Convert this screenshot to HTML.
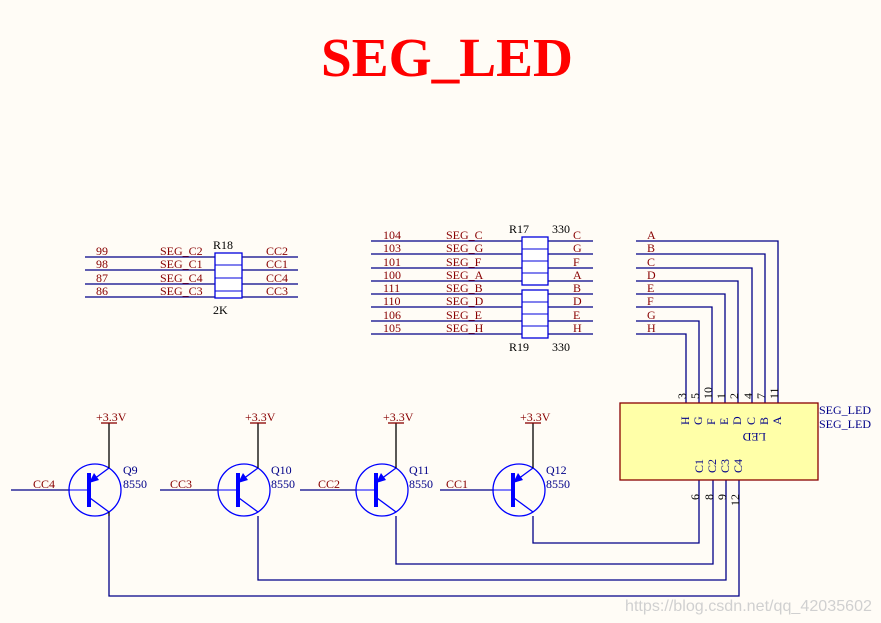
<!DOCTYPE html>
<html><head><meta charset="utf-8"><style>
html,body{margin:0;padding:0;background:#fffcf6;}
svg{display:block;font-family:"Liberation Serif",serif;}
</style></head><body>
<svg width="881" height="623" viewBox="0 0 881 623" xmlns="http://www.w3.org/2000/svg">
<rect width="881" height="623" fill="#fffcf6"/>
<text x="447" y="76" text-anchor="middle" font-size="55" font-weight="bold" fill="#f00" textLength="252" lengthAdjust="spacingAndGlyphs">SEG_LED</text>

<g stroke="#000088" stroke-width="1.3" fill="none">
<line x1="85" y1="257" x2="298" y2="257"/><line x1="85" y1="270" x2="298" y2="270"/>
<line x1="85" y1="284" x2="298" y2="284"/><line x1="85" y1="297" x2="298" y2="297"/>
<line x1="371" y1="241" x2="593" y2="241"/><line x1="371" y1="254" x2="593" y2="254"/>
<line x1="371" y1="268" x2="593" y2="268"/><line x1="371" y1="281" x2="593" y2="281"/>
<line x1="371" y1="294" x2="593" y2="294"/><line x1="371" y1="307" x2="593" y2="307"/>
<line x1="371" y1="321" x2="593" y2="321"/><line x1="371" y1="334" x2="593" y2="334"/>
<path d="M636 241H778V403M636 254H765V403M636 268H752V403M636 281H738V403M636 294H725V403M636 307H712V403M636 321H699V403M636 334H686V403"/>
<path d="M699 480V543H533V516M713 480V564H396V516M726 480V580H258V516M739 480V596H109V516"/>
</g>
<g fill="#fff" stroke="#0000dd" stroke-width="1.3">
<rect x="215" y="253" width="27" height="45"/>
<rect x="522" y="237" width="26" height="48"/>
<rect x="522" y="290" width="26" height="48"/>
</g>
<g stroke="#0000dd" stroke-width="1"><line x1="215" y1="265" x2="242" y2="265"/><line x1="215" y1="278" x2="242" y2="278"/><line x1="215" y1="291" x2="242" y2="291"/>
<line x1="522" y1="249" x2="548" y2="249"/><line x1="522" y1="261" x2="548" y2="261"/><line x1="522" y1="273" x2="548" y2="273"/>
<line x1="522" y1="302" x2="548" y2="302"/><line x1="522" y1="314" x2="548" y2="314"/><line x1="522" y1="326" x2="548" y2="326"/></g>

<g font-size="12" fill="#880000">
<text x="96" y="255">99</text><text x="96" y="268">98</text><text x="96" y="282">87</text><text x="96" y="295">86</text>
<text x="160" y="255">SEG_C2</text><text x="160" y="268">SEG_C1</text><text x="160" y="282">SEG_C4</text><text x="160" y="295">SEG_C3</text>
<text x="266" y="255">CC2</text><text x="266" y="268">CC1</text><text x="266" y="282">CC4</text><text x="266" y="295">CC3</text>
<text x="383" y="239">104</text><text x="383" y="252">103</text><text x="383" y="266">101</text><text x="383" y="279">100</text>
<text x="383" y="292">111</text><text x="383" y="305">110</text><text x="383" y="319">106</text><text x="383" y="332">105</text>
<text x="446" y="239">SEG_C</text><text x="446" y="252">SEG_G</text><text x="446" y="266">SEG_F</text><text x="446" y="279">SEG_A</text>
<text x="446" y="292">SEG_B</text><text x="446" y="305">SEG_D</text><text x="446" y="319">SEG_E</text><text x="446" y="332">SEG_H</text>
<text x="573" y="239">C</text><text x="573" y="252">G</text><text x="573" y="266">F</text><text x="573" y="279">A</text>
<text x="573" y="292">B</text><text x="573" y="305">D</text><text x="573" y="319">E</text><text x="573" y="332">H</text>
<text x="647" y="239">A</text><text x="647" y="252">B</text><text x="647" y="266">C</text><text x="647" y="279">D</text>
<text x="647" y="292">E</text><text x="647" y="305">F</text><text x="647" y="319">G</text><text x="647" y="332">H</text>
</g>
<g font-size="12" fill="#000">
<text x="213" y="249">R18</text><text x="213" y="314">2K</text>
<text x="509" y="233">R17</text><text x="552" y="233">330</text>
<text x="509" y="351">R19</text><text x="552" y="351">330</text>
</g>

<rect x="620" y="403" width="198" height="77" fill="#ffffa8" stroke="#880000" stroke-width="1.3"/>
<g font-size="12" fill="#000">
<g transform="translate(686,399) rotate(-90)"><text>3</text></g>
<g transform="translate(699,399) rotate(-90)"><text>5</text></g>
<g transform="translate(712,399) rotate(-90)"><text>10</text></g>
<g transform="translate(725,399) rotate(-90)"><text>1</text></g>
<g transform="translate(738,399) rotate(-90)"><text>2</text></g>
<g transform="translate(752,399) rotate(-90)"><text>4</text></g>
<g transform="translate(765,399) rotate(-90)"><text>7</text></g>
<g transform="translate(778,399) rotate(-90)"><text>11</text></g>
<g transform="translate(699,500) rotate(-90)"><text>6</text></g>
<g transform="translate(713,500) rotate(-90)"><text>8</text></g>
<g transform="translate(726,500) rotate(-90)"><text>9</text></g>
<g transform="translate(739,506) rotate(-90)"><text>12</text></g>
</g>
<g font-size="12" fill="#000088">
<g transform="translate(689,425) rotate(-90)"><text>H</text></g>
<g transform="translate(702,425) rotate(-90)"><text>G</text></g>
<g transform="translate(715,425) rotate(-90)"><text>F</text></g>
<g transform="translate(728,425) rotate(-90)"><text>E</text></g>
<g transform="translate(741,425) rotate(-90)"><text>D</text></g>
<g transform="translate(755,425) rotate(-90)"><text>C</text></g>
<g transform="translate(768,425) rotate(-90)"><text>B</text></g>
<g transform="translate(781,425) rotate(-90)"><text>A</text></g>
<g transform="translate(703,473) rotate(-90)"><text>C1</text></g>
<g transform="translate(716,473) rotate(-90)"><text>C2</text></g>
<g transform="translate(729,473) rotate(-90)"><text>C3</text></g>
<g transform="translate(742,473) rotate(-90)"><text>C4</text></g>
<g transform="translate(766,433) rotate(180)"><text>LED</text></g>
<text x="819" y="414">SEG_LED</text><text x="819" y="428">SEG_LED</text>
</g>

<g>
<line x1="11" y1="490" x2="70" y2="490" stroke="#000088" stroke-width="1.3"/>
<text x="33" y="488" font-size="12" fill="#880000">CC4</text>
<line x1="160" y1="490" x2="218" y2="490" stroke="#000088" stroke-width="1.3"/>
<text x="170" y="488" font-size="12" fill="#880000">CC3</text>
<line x1="300" y1="490" x2="356" y2="490" stroke="#000088" stroke-width="1.3"/>
<text x="318" y="488" font-size="12" fill="#880000">CC2</text>
<line x1="440" y1="490" x2="494" y2="490" stroke="#000088" stroke-width="1.3"/>
<text x="446" y="488" font-size="12" fill="#880000">CC1</text>
</g>

<g transform="translate(95,490)">
<circle r="26" fill="none" stroke="#0000ff" stroke-width="1.3"/>
<line x1="-26" y1="0" x2="-7" y2="0" stroke="#0000ff"/>
<rect x="-8" y="-17" width="4" height="34" fill="#0000ff"/>
<line x1="-5" y1="-8" x2="14" y2="-22" stroke="#0000ff" stroke-width="1.3"/>
<polygon points="-6,-7 -1,-17 4,-10" fill="#0000ff"/>
<line x1="-5" y1="8" x2="14" y2="22" stroke="#0000ff" stroke-width="1.3"/>
<line x1="14" y1="-22" x2="14" y2="-67" stroke="#000" stroke-width="1.3"/>
<line x1="6" y1="-67" x2="22" y2="-67" stroke="#880000" stroke-width="1.3"/>
<line x1="14" y1="22" x2="14" y2="26" stroke="#000" stroke-width="1.3"/>
<text x="1" y="-69" font-size="12" fill="#880000">+3.3V</text>
<text x="28" y="-16" font-size="12" fill="#000088">Q9</text>
<text x="28" y="-2" font-size="12" fill="#000088">8550</text>
</g>
<g transform="translate(244,490)">
<circle r="26" fill="none" stroke="#0000ff" stroke-width="1.3"/>
<line x1="-26" y1="0" x2="-7" y2="0" stroke="#0000ff"/>
<rect x="-8" y="-17" width="4" height="34" fill="#0000ff"/>
<line x1="-5" y1="-8" x2="14" y2="-22" stroke="#0000ff" stroke-width="1.3"/>
<polygon points="-6,-7 -1,-17 4,-10" fill="#0000ff"/>
<line x1="-5" y1="8" x2="14" y2="22" stroke="#0000ff" stroke-width="1.3"/>
<line x1="14" y1="-22" x2="14" y2="-67" stroke="#000" stroke-width="1.3"/>
<line x1="6" y1="-67" x2="22" y2="-67" stroke="#880000" stroke-width="1.3"/>
<text x="1" y="-69" font-size="12" fill="#880000">+3.3V</text>
<text x="27" y="-16" font-size="12" fill="#000088">Q10</text>
<text x="27" y="-2" font-size="12" fill="#000088">8550</text>
</g>
<g transform="translate(382,490)">
<circle r="26" fill="none" stroke="#0000ff" stroke-width="1.3"/>
<line x1="-26" y1="0" x2="-7" y2="0" stroke="#0000ff"/>
<rect x="-8" y="-17" width="4" height="34" fill="#0000ff"/>
<line x1="-5" y1="-8" x2="14" y2="-22" stroke="#0000ff" stroke-width="1.3"/>
<polygon points="-6,-7 -1,-17 4,-10" fill="#0000ff"/>
<line x1="-5" y1="8" x2="14" y2="22" stroke="#0000ff" stroke-width="1.3"/>
<line x1="14" y1="-22" x2="14" y2="-67" stroke="#000" stroke-width="1.3"/>
<line x1="6" y1="-67" x2="22" y2="-67" stroke="#880000" stroke-width="1.3"/>
<text x="1" y="-69" font-size="12" fill="#880000">+3.3V</text>
<text x="27" y="-16" font-size="12" fill="#000088">Q11</text>
<text x="27" y="-2" font-size="12" fill="#000088">8550</text>
</g>
<g transform="translate(519,490)">
<circle r="26" fill="none" stroke="#0000ff" stroke-width="1.3"/>
<line x1="-26" y1="0" x2="-7" y2="0" stroke="#0000ff"/>
<rect x="-8" y="-17" width="4" height="34" fill="#0000ff"/>
<line x1="-5" y1="-8" x2="14" y2="-22" stroke="#0000ff" stroke-width="1.3"/>
<polygon points="-6,-7 -1,-17 4,-10" fill="#0000ff"/>
<line x1="-5" y1="8" x2="14" y2="22" stroke="#0000ff" stroke-width="1.3"/>
<line x1="14" y1="-22" x2="14" y2="-67" stroke="#000" stroke-width="1.3"/>
<line x1="6" y1="-67" x2="22" y2="-67" stroke="#880000" stroke-width="1.3"/>
<text x="1" y="-69" font-size="12" fill="#880000">+3.3V</text>
<text x="27" y="-16" font-size="12" fill="#000088">Q12</text>
<text x="27" y="-2" font-size="12" fill="#000088">8550</text>
</g>

<text x="625" y="611" font-family="Liberation Sans, sans-serif" font-size="16" fill="#d0d0d0" textLength="247" lengthAdjust="spacingAndGlyphs">https://blog.csdn.net/qq_42035602</text>
</svg>
</body></html>
